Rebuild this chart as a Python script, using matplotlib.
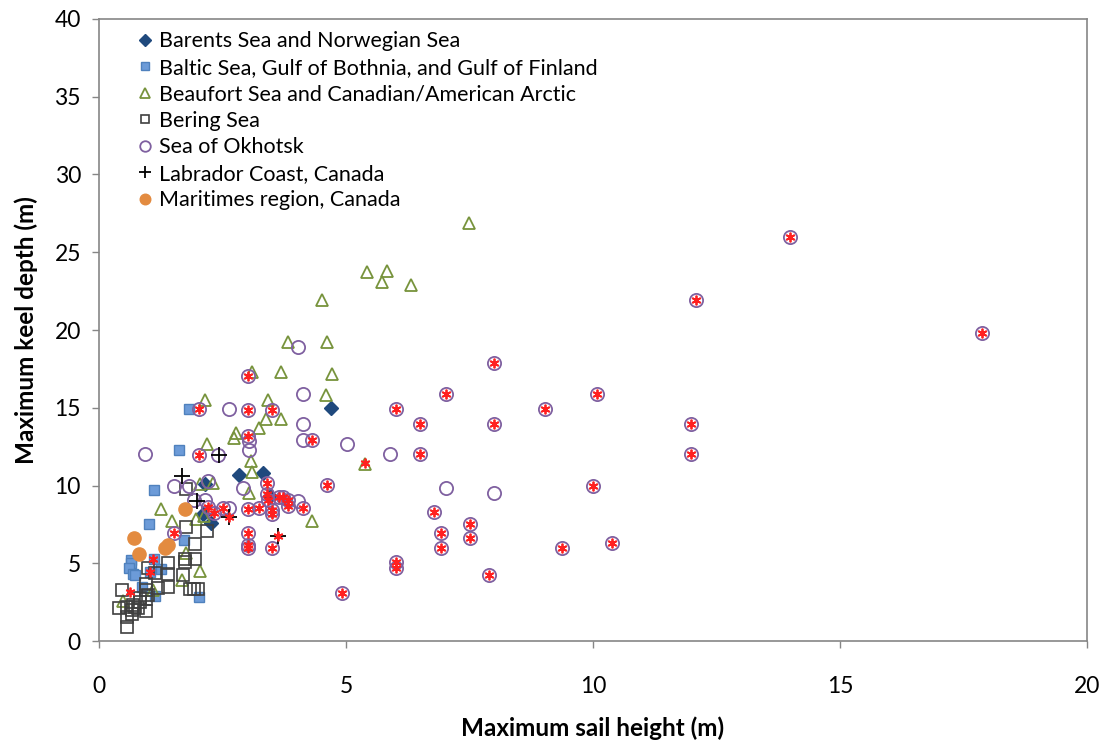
import matplotlib
matplotlib.use("Agg")
import matplotlib.pyplot as plt

plt.rcParams['font.family'] = ['Lato', 'DejaVu Sans']

# Barents Sea and Norwegian Sea
barents_x = [4.69, 2.83, 3.32, 2.14, 2.11, 2.26, 3.46]
barents_y = [15.0, 10.7, 10.8, 10.1, 8.2, 7.6, 9.3]

# Baltic Sea, Gulf of Bothnia, and Gulf of Finland
baltic_x = [1.83, 1.62, 1.12, 1.01, 1.73, 0.64, 0.64, 0.61, 0.68, 0.73, 1.11, 1.03,
            1.25, 0.88, 1.13, 2.02]
baltic_y = [14.9, 12.3, 9.7, 7.5, 6.5, 5.2, 5.0, 4.7, 4.3, 4.25, 5.26, 4.45,
            4.6, 3.5, 2.9, 2.8]

# Beaufort Sea and Canadian/American Arctic
beaufort_x = [7.48, 5.43, 5.82, 5.72, 6.32, 4.52, 4.62, 4.72, 4.60, 3.83, 3.09, 3.69,
              2.14, 3.42, 3.38, 3.69, 3.24, 2.77, 2.73, 2.18, 3.07, 3.09, 2.04, 2.31,
              3.04, 1.25, 1.48, 2.13, 1.96, 4.32, 1.76, 1.67, 2.04, 1.10, 0.48, 5.39]
beaufort_y = [26.85, 23.7, 23.8, 23.1, 22.9, 21.9, 19.2, 17.2, 15.8, 19.2, 17.3, 17.3,
              15.5, 15.5, 14.3, 14.3, 13.7, 13.4, 13.05, 12.7, 11.55, 10.9, 10.1, 10.15,
              9.5, 8.5, 7.7, 8.05, 7.85, 7.7, 5.65, 3.9, 4.5, 3.3, 2.6, 11.4]

# Bering Sea
bering_x = [1.77, 1.77, 2.19, 1.94, 1.74, 1.94, 1.74, 1.40, 1.40, 1.40, 1.00, 1.13,
            1.70, 1.84, 1.93, 2.00, 0.95, 0.96, 1.00, 0.95, 1.20, 0.46, 0.41, 0.56,
            0.69, 0.73, 0.66, 0.79, 0.95, 0.56, 0.56, 0.66, 0.83, 0.83]
bering_y = [9.8, 7.35, 7.1, 6.25, 5.3, 5.3, 5.1, 5.0, 4.3, 3.45, 4.7, 4.35,
            4.25, 3.35, 3.35, 3.35, 3.65, 3.3, 2.95, 2.7, 3.4, 3.25, 2.1, 2.2,
            2.3, 2.2, 2.0, 2.1, 1.9, 1.55, 0.9, 1.75, 2.5, 2.75]

# Sea of Okhotsk
okhotsk_x = [13.99, 12.09, 17.88, 10.09, 11.99, 11.99, 9.99, 10.39, 9.38, 9.02, 7.99, 7.99,
             7.99, 7.89, 7.5, 7.5, 7.02, 7.02, 6.92, 6.92, 6.79, 6.49, 6.49, 6.01,
             5.9, 6.01, 6.01, 5.02, 4.91, 4.61,
             3.02, 3.02, 3.5, 4.13, 4.13, 4.13, 4.31, 4.03, 3.02, 3.03, 3.03, 2.92,
             3.41, 3.41, 3.42, 3.64, 3.73, 3.83, 4.03, 4.13, 3.83, 3.5, 3.5, 3.24, 3.02,
             2.63, 2.03, 2.03, 2.41, 0.93, 1.52, 1.82, 2.21, 1.93, 2.15, 2.21, 2.33,
             2.51, 2.63, 1.52, 3.02, 3.02, 3.02, 3.5]
okhotsk_y = [25.95, 21.96, 19.83, 15.9, 13.97, 12.04, 9.98, 6.31, 5.99, 14.94, 17.9, 13.97,
             9.53, 4.25, 7.53, 6.63, 15.9, 9.85, 6.95, 5.99, 8.3, 13.97, 12.04, 14.94,
             12.04, 5.09, 4.7, 12.7, 3.09, 10.05,
             17.02, 14.87, 14.87, 15.9, 13.95, 12.9, 12.94, 18.91, 13.16, 12.88, 12.3, 9.83,
             10.15, 9.45, 9.08, 9.29, 9.29, 9.08, 9.01, 8.58, 8.71, 8.44, 8.16, 8.58, 8.5,
             14.92, 14.92, 11.98, 11.98, 12.02, 9.98, 9.94, 10.26, 9.08, 9.08, 8.65, 8.26,
             8.54, 8.54, 6.94, 6.97, 6.18, 6.0, 6.0]

# Labrador Coast, Canada
labrador_x = [1.67, 2.43, 1.98, 2.63, 3.63]
labrador_y = [10.62, 11.98, 9.03, 8.0, 6.78]

# Maritimes region, Canada
maritimes_x = [1.75, 0.71, 0.81, 1.33, 1.40]
maritimes_y = [8.52, 6.61, 5.6, 5.97, 6.18]

# Highlighted measurements (red asterisks)
flag_x = [13.99, 12.09, 17.88, 10.09, 11.99, 11.99, 9.99, 10.39, 9.38, 9.02, 7.99, 7.99,
          7.89, 7.5, 7.5, 7.02, 6.92, 6.92, 6.79, 6.49, 6.49, 6.01, 6.01, 6.01, 4.91, 4.61,
          3.02, 3.02, 3.5, 4.31, 3.02, 3.41, 3.41, 3.42, 3.64, 3.73, 3.83, 4.13, 3.83,
          3.5, 3.5, 3.24, 3.02,
          2.03, 2.03, 2.21, 2.33, 2.51, 1.52, 3.02, 3.02, 3.02, 3.5,
          1.10, 1.03, 0.63, 2.63, 3.63, 5.39]
flag_y = [25.95, 21.96, 19.83, 15.9, 13.97, 12.04, 9.98, 6.31, 5.99, 14.94, 17.9, 13.97,
          4.25, 7.53, 6.63, 15.9, 6.95, 5.99, 8.3, 13.97, 12.04, 14.94, 5.09, 4.7, 3.09, 10.05,
          17.02, 14.87, 14.87, 12.94, 13.16, 10.15, 9.45, 9.08, 9.29, 9.29, 9.08, 8.58, 8.71,
          8.44, 8.16, 8.58, 8.5,
          14.92, 11.98, 8.65, 8.26, 8.54, 6.94, 6.97, 6.18, 6.0, 6.0,
          5.26, 4.42, 3.14, 8.0, 6.78, 11.44]

x_ticks = [0, 5, 10, 15, 20]
y_ticks = [0, 5, 10, 15, 20, 25, 30, 35, 40]

fig = plt.figure(figsize=(11.05, 7.44), dpi=100)
ax = fig.add_axes([0.0896, 0.1384, 0.8941, 0.8361])

ax.plot(barents_x, barents_y, ls='none', marker='D', ms=7.5, mfc='#1F497D', mec='#1F497D',
        label='Barents Sea and Norwegian Sea')
ax.plot(baltic_x, baltic_y, ls='none', marker='s', ms=6.5, mfc='#6C9BD8', mec='#4F81BD',
        mew=1.0, label='Baltic Sea, Gulf of Bothnia, and Gulf of Finland')
ax.plot(beaufort_x, beaufort_y, ls='none', marker='^', ms=9, mfc='none', mec='#77933C',
        mew=1.3, label='Beaufort Sea and Canadian/American Arctic')
ax.plot(bering_x, bering_y, ls='none', marker='s', ms=8, mfc='none', mec='#404040',
        mew=1.2, label='Bering Sea')
ax.plot(okhotsk_x, okhotsk_y, ls='none', marker='o', ms=9.5, mfc='none', mec='#7F60A0',
        mew=1.3, label='Sea of Okhotsk')
ax.plot(labrador_x, labrador_y, ls='none', marker='+', ms=11, mec='black', mew=1.3,
        label='Labrador Coast, Canada')
ax.plot(maritimes_x, maritimes_y, ls='none', marker='o', ms=9.5, mfc='#E38B40', mec='#E38B40',
        label='Maritimes region, Canada')
ax.plot(flag_x, flag_y, ls='none', marker=(6, 2, 0), ms=7, mec='#FF2020', mew=1.3,
        zorder=5)

ax.set_xlim(0, 20)
ax.set_ylim(0, 40)
ax.set_xticks(x_ticks)
ax.set_yticks(y_ticks)
ax.tick_params(axis='both', labelsize=16.5, color='#868686', length=5, width=1,
               direction='out')
ax.tick_params(axis='x', pad=20)
ax.tick_params(axis='y', pad=8)
for sp in ax.spines.values():
    sp.set_color('#868686')
    sp.set_linewidth(1.2)

ax.set_xlabel('Maximum sail height (m)', fontsize=17.5, fontweight='bold', labelpad=14.5)
ax.set_ylabel('Maximum keel depth (m)', fontsize=17.5, fontweight='bold', labelpad=12)

handles, labels = ax.get_legend_handles_labels()
leg = ax.legend(handles, labels, loc='upper left', bbox_to_anchor=(0.03, 0.994),
                frameon=False, fontsize=15.5, handlelength=0.7, handletextpad=0.3,
                labelspacing=0.30, borderaxespad=0, markerscale=0.8)

fig.savefig('out.png', dpi=100)
